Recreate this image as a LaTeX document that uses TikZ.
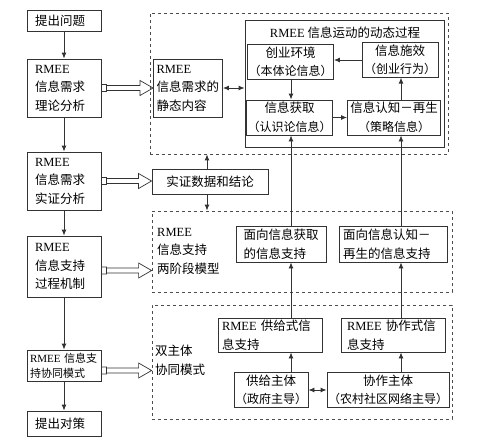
\documentclass[tikz,border=0pt]{standalone}
\usepackage{fontspec}
\setmainfont{Noto Sans CJK SC}
\newfontfamily\lat{Liberation Serif}
\usetikzlibrary{arrows.meta,calc,positioning}
\newcommand{\sm}{\fontsize{12}{18.5}\selectfont}
% hollow block arrow, level with #1, ending at #2
\newcommand{\hollowarrow}[2]{%
  \draw[hollow] let \p1=(#1), \p2=(#2) in
    (\x1,\y1+3.5pt) rectangle (\x1+5pt,\y1-3.5pt)
    (\x1+5pt,\y1+2.5pt) -- (\x2-13pt,\y1+2.5pt) -- (\x2-13pt,\y1+7.5pt) -- (\x2,\y1)
    -- (\x2-13pt,\y1-7.5pt) -- (\x2-13pt,\y1-2.5pt) -- (\x1+5pt,\y1-2.5pt);
}
\begin{document}
\begin{tikzpicture}[x=1pt,y=-1pt,
  every node/.style={font=\fontsize{12.5}{18.5}\selectfont,inner sep=2pt},
  box/.style={draw=black!80,line width=0.9pt},
  lbox/.style={box,align=left,text width=58pt,inner xsep=8pt,minimum width=74pt},
  cbox/.style={box,align=center,inner xsep=1pt},
  region/.style={draw=black!70,line width=0.8pt,dash pattern=on 3pt off 3pt},
  link/.style={draw=black!80,line width=0.9pt,-{Latex[length=6pt,width=5pt]}},
  both/.style={link,{Latex[length=6pt,width=5pt]}-{Latex[length=6pt,width=5pt]}},
  hollow/.style={draw=black!80,line width=0.7pt}]
\useasboundingbox (0,0) rectangle (500,442);
\coordinate (lx) at (291,0);
\coordinate (rx) at (401,0);
\coordinate (mx) at (207,0);
% left column
\node[lbox,minimum height=21pt] (ask) at (64,20.5) {提出问题};
\node[lbox,minimum height=58pt] (theo) at (64,88) {{\lat RMEE}\\信息需求\\理论分析};
\node[lbox,minimum height=58pt] (emp) at (64,181) {{\lat RMEE}\\信息需求\\实证分析};
\node[lbox,minimum height=61pt] (proc) at (64,266.5) {{\lat RMEE}\\信息支持\\过程机制};
\node[lbox,minimum height=31pt,text width=68pt,inner xsep=3pt,font=\fontsize{11}{15}\selectfont] (coop) at (64,365.5) {{\lat RMEE} 信息支\\持协同模式};
\node[lbox,minimum height=25pt] (plan) at (64,423.5) {提出对策};
\draw[link] (ask) -- (theo);
\draw[link] (theo) -- (emp);
\draw[link] (emp) -- (proc);
\draw[link] (proc) -- (coop);
\draw[link] (coop) -- (plan);
% dashed regions
\node[region,minimum width=298pt,minimum height=141pt] (r1) at (299,83.5) {};
\node[region,minimum width=300pt,minimum height=81pt] (r2) at (302,251.5) {};
\node[region,minimum width=300pt,minimum height=114pt] (r3) at (302,362) {};
% static and dynamic content
\node[box,align=left,text width=63pt,inner xsep=3pt,minimum height=58pt] (stat) at (188,88) {{\lat RMEE}\\信息需求的\\静态内容};
\node[box,minimum width=199pt,minimum height=127pt] (dyn) at (344.5,83.5) {};
\node (dyntitle) at (345,33) {{\lat RMEE} 信息运动的动态过程};
\node[cbox,minimum width=86pt,minimum height=34pt] (env) at (290.5,62) {创业环境\\{\sm （本体论信息）}};
\node[cbox,minimum width=76pt,minimum height=34pt] (eff) at (400,60) {信息施效\\{\sm （创业行为）}};
\node[cbox,minimum width=86pt,minimum height=35pt] (acq) at (289.5,117.5) {信息获取\\{\sm （认识论信息）}};
\node[cbox,minimum width=93pt,minimum height=35pt] (cog) at (394,117.5) {信息认知－再生\\{\sm （策略信息）}};
\draw[link] (eff.west) -- (eff.west -| env.east);
\draw[link] (env.south -| lx) -- (acq.north -| lx);
\draw[link] (acq) -- (cog);
\draw[link] (cog.north -| rx) -- (eff.south -| rx);
\draw[both] (stat.east) -- (stat.east -| dyn.west);
% empirical data
\node[box,minimum width=116pt,minimum height=25pt] (data) at (210,181.5) {实证数据和结论};
\draw[link] (data.north -| mx) -- (r1.south -| mx);
\draw[link] (data.south -| mx) -- (r2.north -| mx);
% two-stage model
\node[anchor=west,align=left] (r2txt) at (155,251) {{\lat RMEE}\\信息支持\\两阶段模型};
\node[box,align=left,text width=75pt,inner xsep=7.5pt,minimum height=36pt] (sup1) at (281,244) {面向信息获取\\的信息支持};
\node[box,align=left,text width=100pt,inner xsep=4pt,minimum height=36pt] (sup2) at (393,244) {面向信息认知－\\再生的信息支持};
\draw[link] (sup1.north -| lx) -- (acq.south -| lx);
\draw[link] (sup2.north -| rx) -- (cog.south -| rx);
% cooperative mode
\node[anchor=west,align=left] (r3txt) at (153,360.5) {双主体\\协同模式};
\node[box,align=left,text width=96pt,inner xsep=4pt,minimum height=34pt] (sp1) at (270,335) {{\lat RMEE} 供给式信\\息支持};
\node[box,align=left,text width=92pt,inner xsep=6pt,minimum height=34pt] (sp2) at (393,335) {{\lat RMEE} 协作式信\\息支持};
\node[cbox,minimum width=74pt,minimum height=34pt] (sub1) at (271,390) {供给主体\\{\sm （政府主导）}};
\node[cbox,minimum width=122pt,minimum height=34pt] (sub2) at (388,390) {协作主体\\{\sm （农村社区网络主导）}};
\draw[link] (sp1.north -| lx) -- (sup1.south -| lx);
\draw[link] (sp2.north -| rx) -- (sup2.south -| rx);
\draw[link] (sub1.north -| lx) -- (sp1.south -| lx);
\draw[link] (sub2.north -| rx) -- (sp2.south -| rx);
\draw[both] (sub1.east) -- (sub1.east -| sub2.west);
% hollow arrows
\hollowarrow{theo.east}{stat.west}
\hollowarrow{emp.east}{data.west}
\hollowarrow{[yshift=-4pt]proc.east}{r2.west}
\hollowarrow{[yshift=-5pt]coop.east}{r3.west}
\end{tikzpicture}
\end{document}
